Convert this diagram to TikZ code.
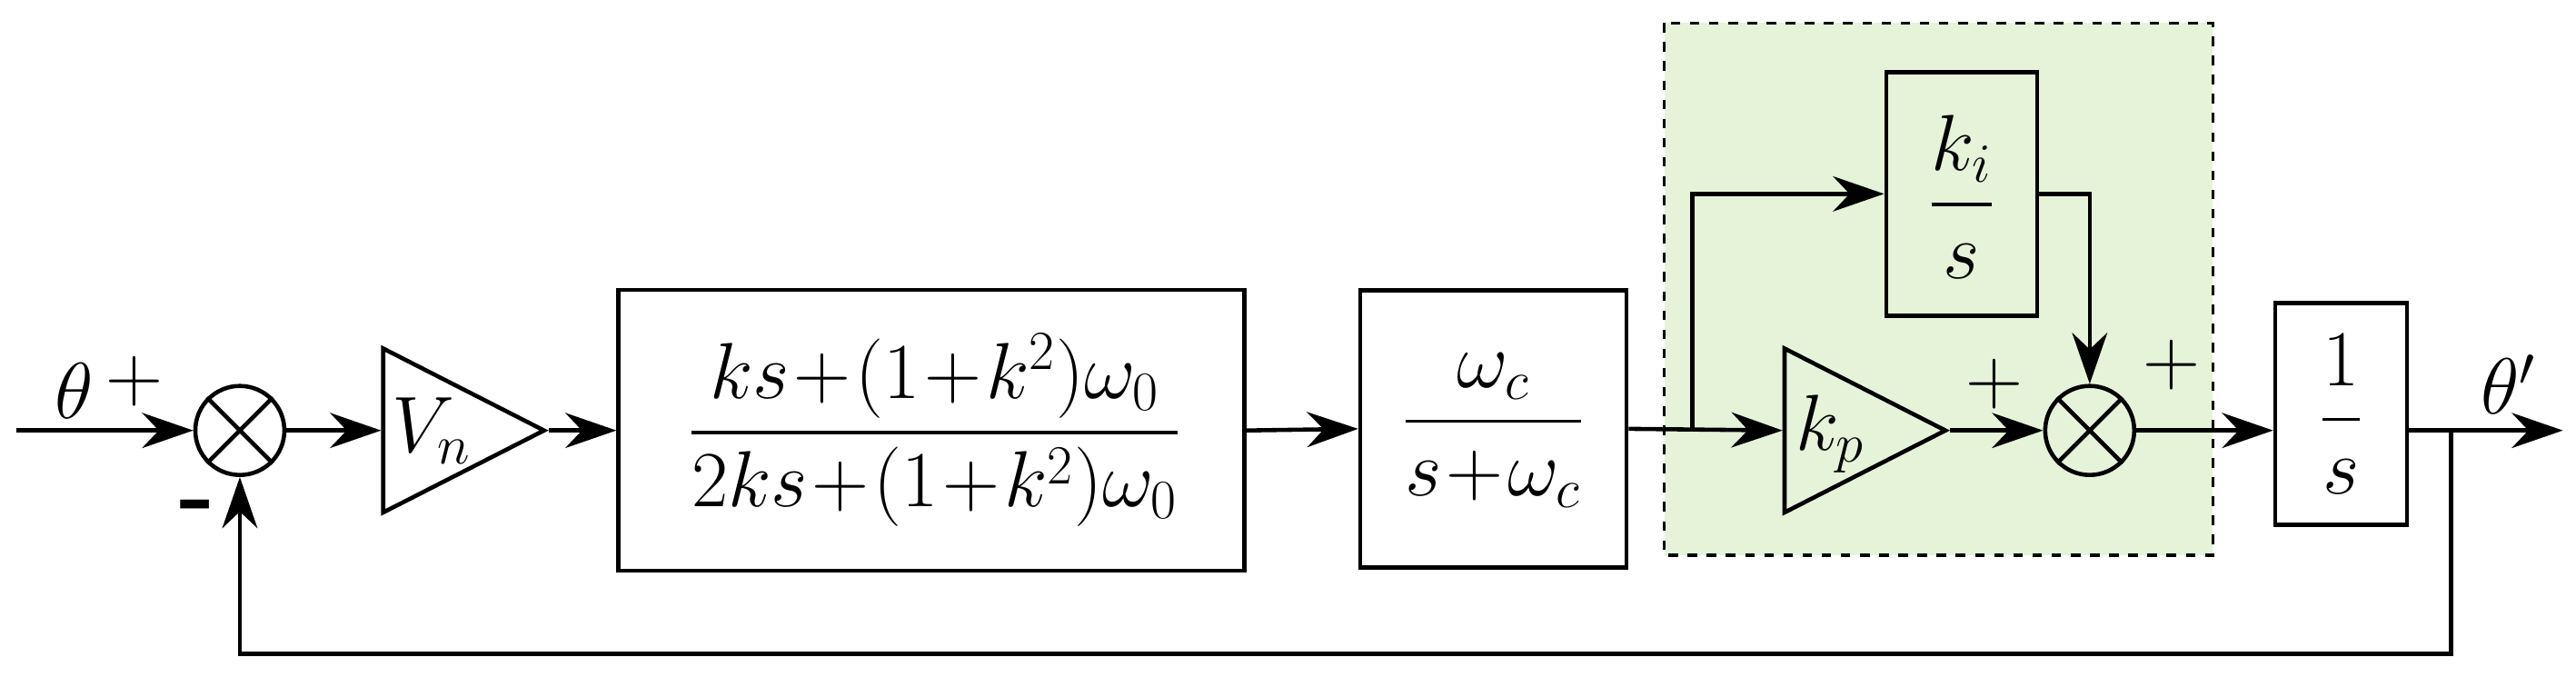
\documentclass[tikz,border=0pt]{standalone}
\usepackage{amsmath}
\usetikzlibrary{arrows.meta,shapes.geometric}
\begin{document}
\begin{tikzpicture}[x=0.01808cm,y=-0.01808cm,
  line width=1.3pt,
  >={Stealth[length=16pt,width=11pt]},
  blk/.style={draw,line width=1.3pt,inner sep=0pt},
  sumc/.style={draw,circle,minimum size=0.98cm,inner sep=0pt,line width=1.3pt},
  tri/.style={draw,isosceles triangle,isosceles triangle apex angle=54,minimum height=1.77cm,inner sep=0pt,line width=1.3pt,anchor=west},
  big/.style={font=\fontsize{26}{30}\selectfont}]
\useasboundingbox (0,0) rectangle (1568,418);
% dashed region
\fill[green!35!olive!15] (1013,14) rectangle (1347,338);
\draw[dashed,line width=1pt] (1013,14) rectangle (1347,338);
% nodes
\coordinate (in) at (10,262);
\node[sumc] (s1) at (146,262) {};
\draw (s1.north west)--(s1.south east) (s1.north east)--(s1.south west);
\node[tri] (vn) at (232,262) {};
\node[big] at (263,262) {$V_n$};
\node[blk,minimum width=6.89cm,minimum height=3.09cm] (b1) at (567,262) {};
\node[big] at (569,262) {$\dfrac{ks\!+\!(1\!+\!k^2)\omega_0}{2ks\!+\!(1\!+\!k^2)\omega_0}$};
\node[blk,minimum width=2.93cm,minimum height=3.05cm] (b2) at (909,261) {};
\node[big] at (909,262) {$\dfrac{\omega_c}{s\!+\!\omega_c}$};
\node[blk,minimum width=1.66cm,minimum height=2.68cm] (ki) at (1194,118) {};
\node[big] at (1194,120) {$\dfrac{k_i}{s}$};
\node[tri] (kp) at (1085,262) {};
\node[big] at (1114,264) {$k_p$};
\node[sumc] (s2) at (1272,262) {};
\draw (s2.north west)--(s2.south east) (s2.north east)--(s2.south west);
\node[blk,minimum width=1.45cm,minimum height=2.44cm] (b3) at (1425,252) {};
\node[big] at (1425,252) {$\dfrac{1}{s}$};
\coordinate (sp) at (1030,262);
\coordinate (br) at (1492,262);
\coordinate (out) at (1560,262);
% connectors
\draw[->] (in)--(s1);
\draw[->] (s1)--(vn.west);
\draw[->] (vn.apex)--(b1.west);
\draw[->] (b1.east)--(b2.west);
\draw[->] (b2.east)--(kp.west);
\draw[->] (sp)|-(ki.west);
\draw[->] (ki.east)-|(s2.north);
\draw[->] (kp.apex)--(s2.west);
\draw[->] (s2.east)--(b3.west|-s2);
\draw[->] (b3.east|-s2)--(out);
\draw[->] (br)--++(0,136)-|(s1.south);
% labels
\node[big] at (45,238) {$\theta$};
\node[big] at (82,232) {$+$};
\node[big,font=\fontsize{30}{30}\bfseries\selectfont] at (120,312) {-};
\node[big] at (1214,234) {$+$};
\node[big] at (1322,222) {$+$};
\node[big] at (1527,234) {$\theta'$};
\end{tikzpicture}
\end{document}
